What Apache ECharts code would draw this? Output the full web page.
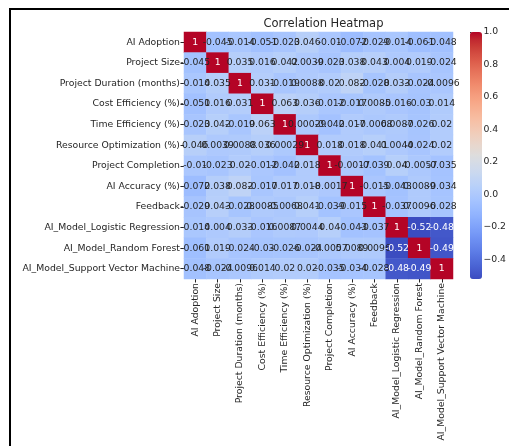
<!DOCTYPE html>
<html>
<head>
<meta charset="utf-8">
<script src="https://cdn.jsdelivr.net/npm/echarts@6/dist/echarts.min.js"></script>
<style>
html,body{margin:0;padding:0;background:#fff;}
#c{width:509px;height:446px;}
</style>
</head>
<body>
<div id="c"></div>
<script>
const labels = [
  "AI Adoption", "Project Size", "Project Duration (months)", "Cost Efficiency (%)",
  "Time Efficiency (%)", "Resource Optimization (%)", "Project Completion", "AI Accuracy (%)",
  "Feedback", "AI_Model_Logistic Regression", "AI_Model_Random Forest", "AI_Model_Support Vector Machine"
];
const row0  = ["1","-0.045","-0.014","-0.051","-0.023","0.046","-0.01","-0.072","-0.029","-0.014","-0.061","-0.048"];
const row1  = ["-0.045","1","0.035","0.016","0.042","0.0039","-0.023","0.038","0.043","0.004","0.019","-0.024"];
const row2  = ["-0.014","0.035","1","0.031","-0.019","0.0088","0.02","0.082","-0.028","0.033","-0.024","-0.0096"];
const row3  = ["-0.051","0.016","0.031","1","0.063","0.036","-0.012","-0.017","0.0085","-0.016","-0.03","0.014"];
const row4  = ["-0.023","0.042","-0.019","0.063","1","0.00029","-0.042","0.017","-0.0068","0.0087","-0.026","0.02"];
const row5  = ["0.046","0.0039","0.0088","0.036","0.00029","1","0.018","0.018","0.041","0.0044","-0.024","0.02"];
const row6  = ["-0.01","-0.023","0.02","-0.012","-0.042","0.018","1","-0.0017","-0.039","0.04","-0.0057","-0.035"];
const row7  = ["-0.072","0.038","0.082","-0.017","0.017","0.018","-0.0017","1","-0.015","-0.043","0.0089","-0.034"];
const row8  = ["-0.029","0.043","-0.028","0.0085","-0.0068","0.041","-0.039","-0.015","1","-0.037","0.0096","-0.028"];
const row9  = ["-0.014","0.004","0.033","-0.016","0.0087","0.0044","0.04","-0.043","-0.037","1","-0.52","-0.48"];
const row10 = ["-0.061","0.019","-0.024","-0.03","-0.026","-0.024","-0.0057","0.0089","0.0096","-0.52","1","-0.49"];
const row11 = ["-0.048","-0.024","-0.0096","0.014","0.02","0.02","-0.035","-0.034","-0.028","-0.48","-0.49","1"];
const rows = [row0,row1,row2,row3,row4,row5,row6,row7,row8,row9,row10,row11];
const colorbarTicks = [-0.4, -0.2, 0.0, 0.2, 0.4, 0.6, 0.8, 1.0];
const vMin = -0.52, vMax = 1.0;

const coolwarm = ["#3b4cc0","#445acc","#4d68d7","#5775e1","#6282ea","#6c8ef1","#779af7","#82a5fb",
 "#8db0fe","#98b9ff","#a3c2ff","#aec9fd","#b8d0f9","#c2d5f4","#ccd9ee","#d5dbe6","#dddddd",
 "#e5d8d1","#ecd3c5","#f1ccb8","#f5c4ac","#f7bb9f","#f7b193","#f7a686","#f49a7b","#f18d6f",
 "#ec7f63","#e57059","#de604d","#d55043","#cb3e38","#c0282f","#b40426"];

const data = [];
rows.forEach((r, i) => r.forEach((s, j) => {
  const v = parseFloat(s);
  data.push({value: [j, i, v], label: {formatter: s, color: (v > 0.6 || v < -0.3) ? "#ffffff" : "#262626"}});
}));

const FONT = "DejaVu Sans";
const FS = 9.3;
const chart = echarts.init(document.getElementById('c'), null, {renderer: 'canvas'});
chart.setOption({
  backgroundColor: '#ffffff',
  animation: false,
  title: {
    text: 'Correlation Heatmap', left: 318.5, top: 13, textAlign: 'center',
    textStyle: {fontFamily: FONT, fontSize: 11.5, fontWeight: 'normal', color: '#262626'}
  },
  graphic: [{
    type: 'rect', shape: {x: 10, y: 9, width: 620, height: 500},
    style: {fill: 'none', stroke: '#000', lineWidth: 2}, silent: true
  }],
  grid: [
    {left: 184, top: 32, width: 269, height: 247},
    {left: 470, top: 32, width: 12, height: 247}
  ],
  xAxis: [
    {type: 'category', data: labels, gridIndex: 0, position: 'bottom',
     axisLine: {show: false}, splitLine: {show: false},
     axisTick: {show: true, length: 3.5, alignWithLabel: true, lineStyle: {color: '#262626'}},
     axisLabel: {rotate: 90, fontFamily: FONT, fontSize: FS, color: '#262626', margin: 4, interval: 0}},
    {type: 'value', gridIndex: 1, show: false, min: 0, max: 1}
  ],
  yAxis: [
    {type: 'category', data: labels, gridIndex: 0, inverse: true,
     axisLine: {show: false}, splitLine: {show: false},
     axisTick: {show: true, length: 3.5, alignWithLabel: true, lineStyle: {color: '#262626'}},
     axisLabel: {fontFamily: FONT, fontSize: FS, color: '#262626', margin: 4, interval: 0}},
    {type: 'value', gridIndex: 1, position: 'right', min: vMin, max: vMax,
     axisLine: {show: false}, splitLine: {show: false},
     axisTick: {show: true, length: 3.5, customValues: colorbarTicks, lineStyle: {color: '#262626'}},
     axisLabel: {customValues: colorbarTicks, fontFamily: FONT, fontSize: FS, color: '#262626', margin: 6,
       formatter: v => (v < 0 ? '\u2212' : '') + Math.abs(v).toFixed(1)}}
  ],
  visualMap: {
    type: 'continuous', min: vMin, max: vMax, seriesIndex: 0, calculable: false,
    orient: 'vertical', left: 470, top: 32, itemWidth: 12, itemHeight: 247, padding: 0,
    text: null, showLabel: false, hoverLink: false,
    inRange: {color: coolwarm}
  },
  series: [{
    type: 'heatmap', xAxisIndex: 0, yAxisIndex: 0, data: data,
    itemStyle: {borderWidth: 0},
    label: {show: true, fontFamily: FONT, fontSize: FS},
    emphasis: {disabled: true}
  }]
});
</script>
</body>
</html>
